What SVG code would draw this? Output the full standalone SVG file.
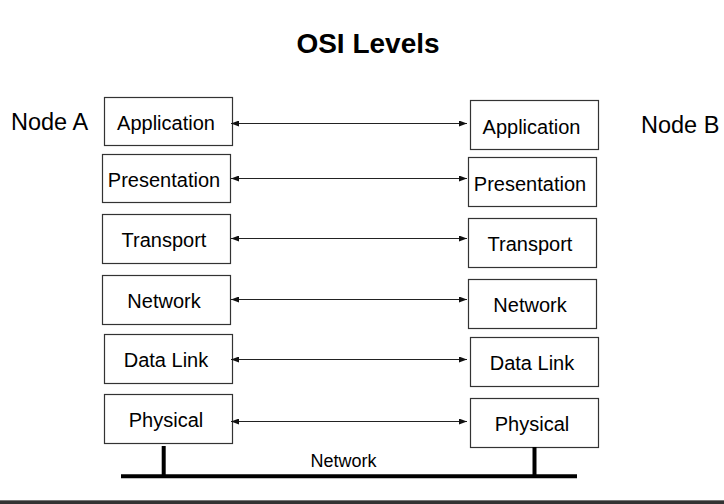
<svg xmlns="http://www.w3.org/2000/svg" width="724" height="504" viewBox="0 0 724 504">
<style>
.box{fill:#fff;stroke:#333;stroke-width:1.2}
.lbl{font-family:"Liberation Sans",Arial,sans-serif;font-size:20px;fill:#000;text-anchor:middle}
.node{font-family:"Liberation Sans",Arial,sans-serif;font-size:23.5px;fill:#000}
.conn{stroke:#222;stroke-width:1;fill:none;marker-start:url(#ah);marker-end:url(#ah)}
</style>
<defs>
<marker id="ah" viewBox="0 0 8 6" refX="8" refY="3" markerWidth="8" markerHeight="6" markerUnits="userSpaceOnUse" orient="auto-start-reverse">
<path d="M0,0 L8,3 L0,6 Z" fill="#111"/>
</marker>
</defs>
<rect width="724" height="504" fill="#fff"/>
<text x="368" y="53" font-family="Liberation Sans,Arial,sans-serif" font-size="28" font-weight="bold" text-anchor="middle">OSI Levels</text>
<text class="node" x="11" y="129.5">Node A</text>
<text class="node" x="641" y="132.5">Node B</text>

<g id="a-application"><rect class="box" x="104.5" y="97.5" width="128" height="48"/><text class="lbl" x="166" y="129.5">Application</text></g>
<g id="a-presentation"><rect class="box" x="102.5" y="154.5" width="128" height="48"/><text class="lbl" x="164" y="186.5">Presentation</text></g>
<g id="a-transport"><rect class="box" x="102.5" y="214.5" width="128" height="49"/><text class="lbl" x="164" y="247">Transport</text></g>
<g id="a-network"><rect class="box" x="102.5" y="275.5" width="128" height="49"/><text class="lbl" x="164" y="308">Network</text></g>
<g id="a-datalink"><rect class="box" x="104.5" y="334.5" width="128" height="49"/><text class="lbl" x="166" y="367">Data Link</text></g>
<g id="a-physical"><rect class="box" x="104.5" y="394.5" width="128" height="49"/><text class="lbl" x="166" y="427">Physical</text></g>

<g id="b-application"><rect class="box" x="470.5" y="100.5" width="128" height="49"/><text class="lbl" x="531.5" y="133.5">Application</text></g>
<g id="b-presentation"><rect class="box" x="468.5" y="157.5" width="128" height="49"/><text class="lbl" x="530" y="190.5">Presentation</text></g>
<g id="b-transport"><rect class="box" x="468.5" y="218.5" width="128" height="49"/><text class="lbl" x="530" y="251">Transport</text></g>
<g id="b-network"><rect class="box" x="468.5" y="279.5" width="128" height="49"/><text class="lbl" x="530" y="312">Network</text></g>
<g id="b-datalink"><rect class="box" x="470.5" y="337.5" width="128" height="49"/><text class="lbl" x="532" y="370">Data Link</text></g>
<g id="b-physical"><rect class="box" x="470.5" y="398.5" width="128" height="49"/><text class="lbl" x="532" y="431">Physical</text></g>

<g id="connectors">
<line class="conn" x1="231" y1="123.5" x2="467" y2="123.5"/>
<line class="conn" x1="231" y1="178.5" x2="467" y2="178.5"/>
<line class="conn" x1="231" y1="238.5" x2="467" y2="238.5"/>
<line class="conn" x1="231" y1="299.5" x2="467" y2="299.5"/>
<line class="conn" x1="231" y1="359.5" x2="467" y2="359.5"/>
<line class="conn" x1="231" y1="421.5" x2="467" y2="421.5"/>
</g>

<g id="network-bus">
<line x1="121" y1="476.3" x2="577" y2="476.3" stroke="#000" stroke-width="4"/>
<line x1="163.7" y1="446" x2="163.7" y2="476" stroke="#000" stroke-width="4"/>
<line x1="534.5" y1="447" x2="534.5" y2="476" stroke="#000" stroke-width="4"/>
<text x="343.5" y="467" font-family="Liberation Sans,Arial,sans-serif" font-size="18" text-anchor="middle">Network</text>
</g>
<rect x="0" y="500" width="724" height="4" fill="#333"/>
<rect x="0" y="500" width="724" height="1" fill="#777"/>
</svg>
